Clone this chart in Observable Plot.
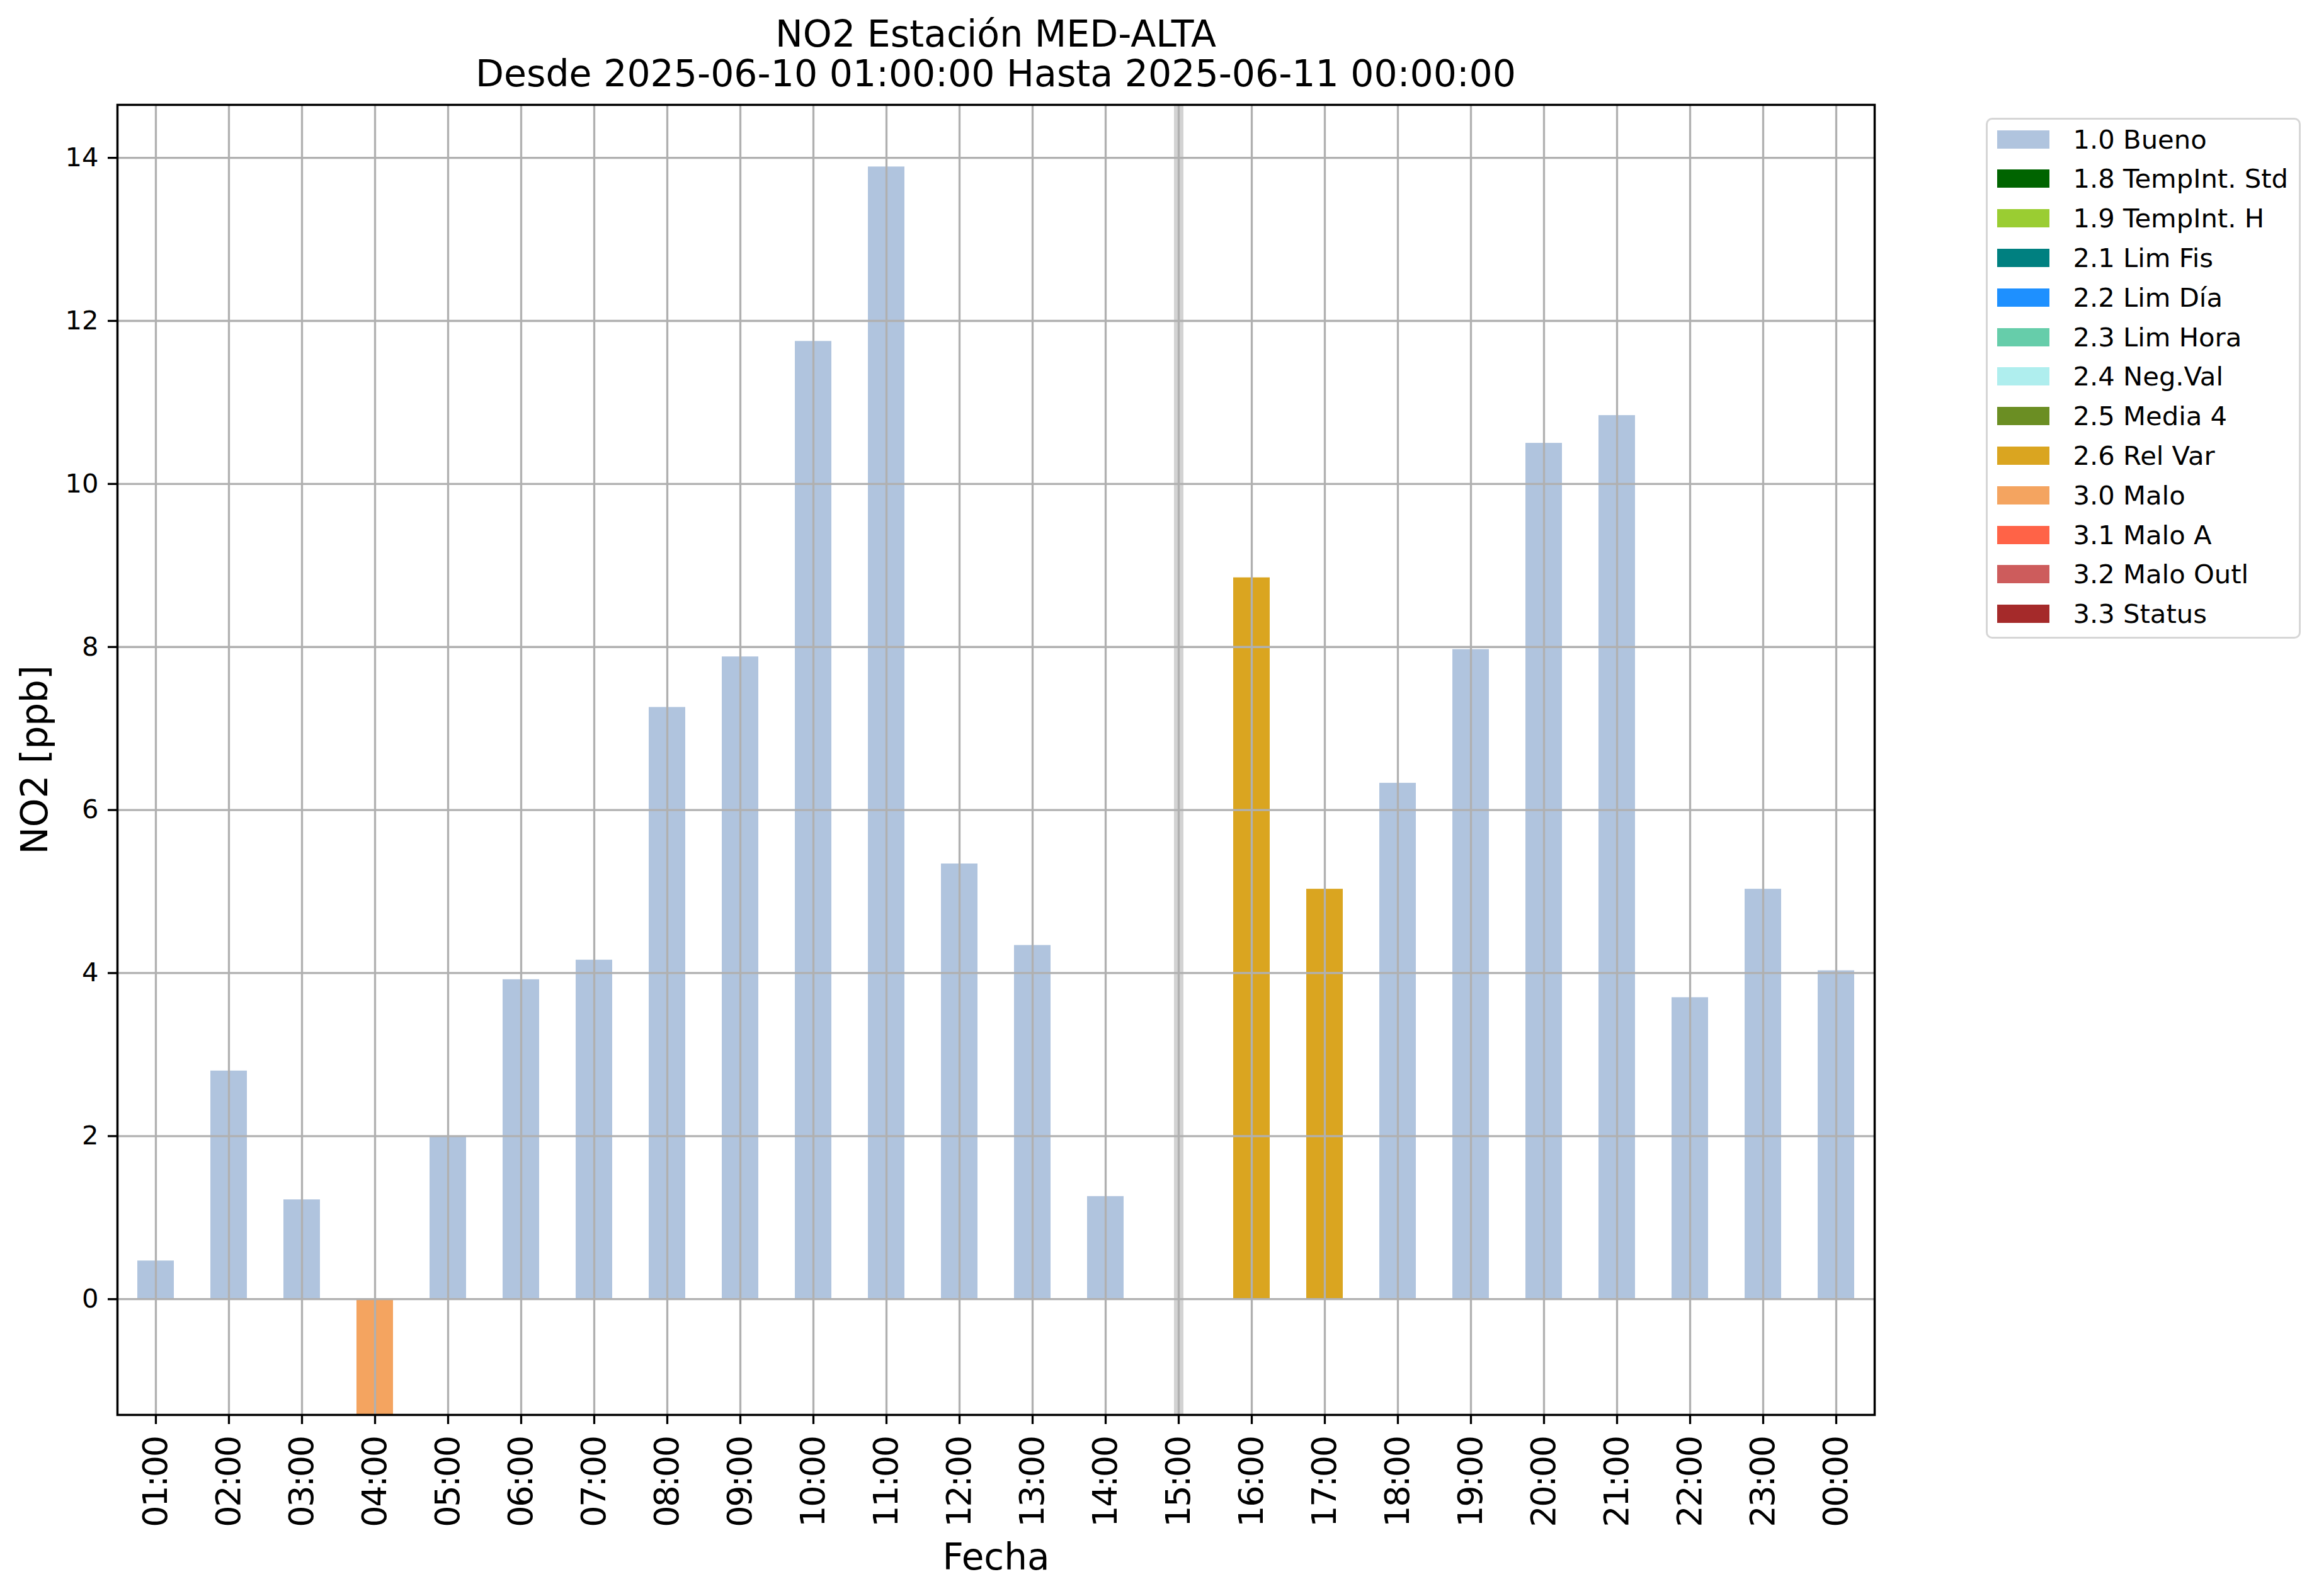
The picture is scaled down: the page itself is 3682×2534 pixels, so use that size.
<!DOCTYPE html>
<html>
<head>
<meta charset="utf-8">
<script src="https://cdn.jsdelivr.net/npm/d3@7"></script>
<script src="https://cdn.jsdelivr.net/npm/@observablehq/plot@0.6"></script>
<style>
  html, body { margin: 0; padding: 0; background: #fff; }
  body { width: 3682px; height: 2534px; overflow: hidden; font-family: "DejaVu Sans", sans-serif; }
  #wrap { position: relative; width: 3682px; height: 2534px; }
  .title { position: absolute; left: 0; width: 3162px; text-align: center; font-size: 58.5px; line-height: 63px; color: #000; white-space: nowrap; }
  #chart { position: absolute; left: 0; top: 156px; }
  #legend { position: absolute; left: 3153px; top: 187px; width: 500px; height: 827px; box-sizing: border-box; border: 3.5px solid #d6d6d6; border-radius: 10px; background: #fff; }
  .sw { position: absolute; left: 14.5px; width: 83px; height: 29px; }
  .lt { position: absolute; left: 135.5px; height: 29px; line-height: 29px; font-size: 41.7px; white-space: nowrap; color: #000; }
</style>
</head>
<body>
<div id="wrap">
  <div class="title" id="t1" style="top:23px"></div>
  <div class="title" id="t2" style="top:86px"></div>
  <div id="chart"></div>
  <div id="legend"></div>
</div>
<script>
// ---- data ----
const titleLine1 = "NO2 Estación MED-ALTA";
const titleLine2 = "Desde 2025-06-10 01:00:00 Hasta 2025-06-11 00:00:00";
const yLabel = "NO2 [ppb]";
const xLabel = "Fecha";

const hours = ["01:00","02:00","03:00","04:00","05:00","06:00","07:00","08:00","09:00","10:00","11:00","12:00",
               "13:00","14:00","15:00","16:00","17:00","18:00","19:00","20:00","21:00","22:00","23:00","00:00"];
const values = [0.47, 2.80, 1.22, -1.6, 2.00, 3.92, 4.16, 7.26, 7.88, 11.75, 13.89, 5.34,
                4.34, 1.26, null, 8.85, 5.03, 6.33, 7.97, 10.50, 10.84, 3.70, 5.03, 4.03];
const flags = ["1.0 Bueno","1.0 Bueno","1.0 Bueno","3.0 Malo","1.0 Bueno","1.0 Bueno","1.0 Bueno","1.0 Bueno",
               "1.0 Bueno","1.0 Bueno","1.0 Bueno","1.0 Bueno","1.0 Bueno","1.0 Bueno",null,"2.6 Rel Var",
               "2.6 Rel Var","1.0 Bueno","1.0 Bueno","1.0 Bueno","1.0 Bueno","1.0 Bueno","1.0 Bueno","1.0 Bueno"];
const missingHours = ["15:00"];

const legendLabels = ["1.0 Bueno","1.8 TempInt. Std","1.9 TempInt. H","2.1 Lim Fis","2.2 Lim Día","2.3 Lim Hora",
                      "2.4 Neg.Val","2.5 Media 4","2.6 Rel Var","3.0 Malo","3.1 Malo A","3.2 Malo Outl","3.3 Status"];
const legendColors = ["#b0c4de","#006400","#9acd32","#008080","#1e90ff","#66cdaa",
                      "#afeeee","#6b8e23","#daa520","#f4a460","#ff6347","#cd5c5c","#a52a2a"];

const yTicks = [0, 2, 4, 6, 8, 10, 12, 14];
const yDomain = [-1.42, 14.65];

// ---- build ----
document.getElementById("t1").textContent = titleLine1;
document.getElementById("t2").textContent = titleLine2;

const data = hours.map((h, i) => ({hour: h, value: values[i], flag: flags[i]}));

const chart = Plot.plot({
  width: 3682,
  height: 2378,
  marginTop: 10,
  marginBottom: 288,
  marginLeft: 186,
  marginRight: 706,
  style: {fontFamily: "DejaVu Sans, sans-serif", background: "#fff", color: "#000", overflow: "visible"},
  x: {type: "band", domain: hours, paddingInner: 0.5, paddingOuter: 0.25},
  y: {domain: yDomain, clamp: true},
  color: {domain: legendLabels, range: legendColors},
  marks: [
    Plot.barY(data.filter(d => d.value != null), {x: "hour", y: "value", fill: "flag"}),
    Plot.ruleX(missingHours, {x: d => d, stroke: "#d3d3d3", strokeWidth: 15}),
    Plot.gridX({stroke: "#b0b0b0", strokeOpacity: 1, strokeWidth: 3.3}),
    Plot.gridY(yTicks, {stroke: "#b0b0b0", strokeOpacity: 1, strokeWidth: 3.3}),
    Plot.frame({stroke: "#000", strokeWidth: 3.5}),
    Plot.axisX({tickRotate: -90, tickSize: 15, tickPadding: 20, fontSize: 54, strokeWidth: 3.3, label: null}),
    Plot.axisY(yTicks, {tickSize: 15, tickPadding: 15, fontSize: 41.7, strokeWidth: 3.3, label: null, tickFormat: d3.format("d")}),
    Plot.text([yLabel], {frameAnchor: "left", dx: -130, rotate: -90, fontSize: 58, textAnchor: "middle", lineAnchor: "middle"}),
    Plot.text([xLabel], {frameAnchor: "bottom", dy: 227, fontSize: 58, textAnchor: "middle", lineAnchor: "middle"})
  ]
});
document.getElementById("chart").appendChild(chart);
chart.querySelectorAll('g[aria-label="x-axis tick label"] text').forEach(t => { t.style.letterSpacing = "-2.5px"; });

// legend
const leg = document.getElementById("legend");
legendLabels.forEach((lab, i) => {
  const top = 16.5 + i * 62.8;
  const sw = document.createElement("div");
  sw.className = "sw";
  sw.style.top = top + "px";
  sw.style.background = legendColors[i];
  leg.appendChild(sw);
  const t = document.createElement("div");
  t.className = "lt";
  t.style.top = top + "px";
  t.textContent = lab;
  leg.appendChild(t);
});
</script>
</body>
</html>
